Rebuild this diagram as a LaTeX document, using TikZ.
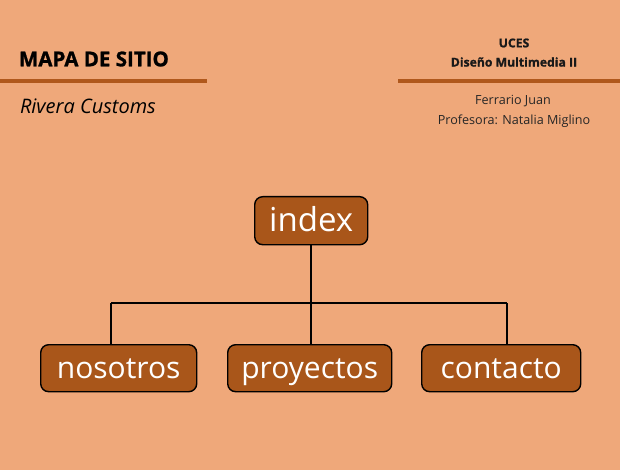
\documentclass[tikz,border=0pt]{standalone}
\usepackage{fontspec}
\setmainfont{Open Sans}[BoldFeatures={FakeBold=1.2}]
\definecolor{bg}{HTML}{EFA87A}
\definecolor{brown}{HTML}{A9561A}
\definecolor{rule}{HTML}{B0581C}
\begin{document}
\begin{tikzpicture}[x=1pt,y=-1pt,
  pagebox/.style={inner sep=0pt, outer sep=0pt},
  sitebox/.style={draw=black, line width=1.4pt, fill=brown, rounded corners=8pt, text=white,
    font=\fontsize{30}{34}\selectfont, inner sep=0pt, anchor=north west,
    text height=26pt, text depth=5pt},
  conn/.style={draw=black, line width=1.2pt},
  hrule/.style={draw=rule, line width=4pt},
  small/.style={font=\fontsize{12.6}{15}\selectfont, text=black!85},
  smallbold/.style={font=\fontsize{12.2}{15}\selectfont\bfseries, text=black!90}
]
\fill[bg] (0,0) rectangle (620,470);
\useasboundingbox (0,0) rectangle (620,470);

\node[pagebox, anchor=west, font=\fontsize{20.5}{24}\selectfont\bfseries] (title) at (19,59) {MAPA DE SITIO};
\node[pagebox, anchor=west, font=\fontsize{20}{24}\selectfont\itshape] (sub) at (20,106) {Rivera Customs};
\coordinate (l1) at (0,81);
\coordinate (l2) at (207,81);
\draw[hrule] (l1) -- (l2);
\coordinate (r1) at (398,81);
\coordinate (r2) at (620,81);
\draw[hrule] (r1) -- (r2);

\node[smallbold] (uces) at (514,43) {UCES};
\node[smallbold] (dm) at (514,62) {Diseño Multimedia II};
\node[small] (fj) at (513,101) {Ferrario Juan};
\node[small] (prof) at (514,121) {Profesora: Natalia Miglino};

\node[sitebox, minimum width=113pt, minimum height=48pt, font=\fontsize{33}{36}\selectfont, text height=27pt] (index) at (254,196) {index};
\node[sitebox, minimum width=156pt, minimum height=47pt] (nos) at (40,344) {nosotros};
\node[sitebox, minimum width=164pt, minimum height=47pt] (pro) at (227,344) {proyectos};
\node[sitebox, minimum width=159pt, minimum height=47pt] (con) at (421,344) {contacto};

\coordinate (j) at (311,303);
\coordinate (bl) at (111,303);
\coordinate (br) at (507,303);
\draw[conn] (j |- index.south) -- (j);
\draw[conn] (bl) -- (br);
\draw[conn] (bl) -- (bl |- nos.north);
\draw[conn] (j) -- (j |- pro.north);
\draw[conn] (br) -- (br |- con.north);
\end{tikzpicture}
\end{document}
